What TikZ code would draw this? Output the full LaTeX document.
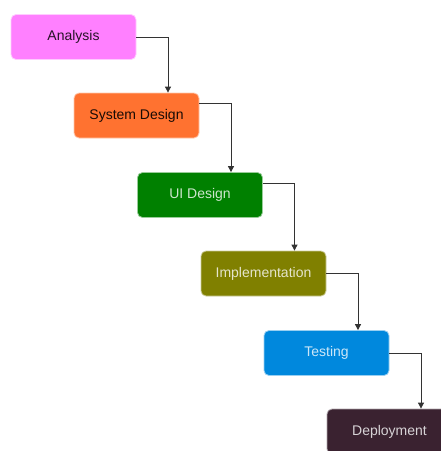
\documentclass[tikz,border=0pt]{standalone}
\usepackage{fontspec}
\setmainfont{Liberation Sans}
\usetikzlibrary{arrows.meta,calc}
\definecolor{cA}{HTML}{FF80FF}
\definecolor{cS}{HTML}{FF7230}
\definecolor{cU}{HTML}{008000}
\definecolor{cI}{HTML}{808000}
\definecolor{cT}{HTML}{0088DD}
\definecolor{cD}{HTML}{3A2230}
\definecolor{linec}{HTML}{333333}
\tikzset{
  stagebox/.style={rounded corners=5pt, minimum width=125pt, minimum height=45pt,
    inner sep=0pt, font=\fontsize{14}{16}\selectfont, line width=0.8pt},
  conn/.style={draw=linec, line width=0.8pt, -{Triangle[length=6pt,width=6pt]}, rounded corners=0pt}
}
\begin{document}
\begin{tikzpicture}[x=1pt,y=-1pt]
\useasboundingbox (0,0) rectangle (441,451);
\fill[white] (0,0) rectangle (441,451);
\begin{scope}
\clip (0,0) rectangle (441,451);
\node[stagebox, fill=cA, draw=cA!40!white, text=black!85!cA] (an) at (73.5,37) {Analysis};
\node[stagebox, fill=cS, draw=cS!40!white, text=black!90!cS] (sd) at (136.5,115.5) {System Design};
\node[stagebox, fill=cU, draw=cU!40!white, text=white!80!cU] (ui) at (200,195) {UI Design};
\node[stagebox, fill=cI, draw=cI!40!white, text=white!80!cI] (im) at (263.5,273.5) {Implementation};
\node[stagebox, fill=cT, draw=cT!40!white, text=white!80!cT] (te) at (326.5,353) {Testing};
\node[stagebox, fill=cD, draw=cD!40!white, text=white!80!cD] (de) at (389.5,431.5) {Deployment};
\end{scope}
\draw[conn] (an.east) -| ([xshift=31.5pt]sd.north);
\draw[conn] ([yshift=-11pt]sd.north east) -| ([xshift=31pt]ui.north);
\draw[conn] ([yshift=-11pt]ui.north east) -| ([xshift=31pt]im.north);
\draw[conn] (im.east) -| ([xshift=31.5pt]te.north);
\draw[conn] (te.east) -| ([xshift=31.5pt]de.north);
\end{tikzpicture}
\end{document}
